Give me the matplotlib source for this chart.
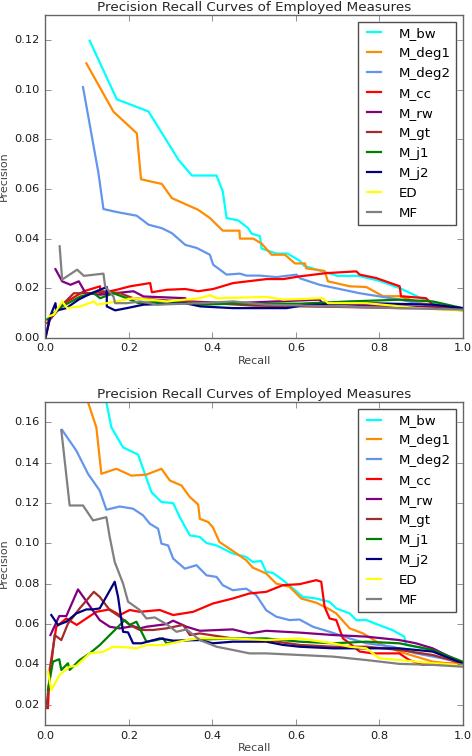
import matplotlib
matplotlib.use("Agg")
import matplotlib.pyplot as plt

plt.style.use("classic")

names = ["M_bw", "M_deg1", "M_deg2", "M_cc", "M_rw", "M_gt", "M_j1", "M_j2", "ED", "MF"]
colors = ["cyan", "darkorange", "cornflowerblue", "red", "purple", "brown",
          "green", "navy", "yellow", "gray"]

# top panel: (recall, precision)
top_bw_r = [0.106, 0.171, 0.247, 0.319, 0.351, 0.41, 0.425, 0.434, 0.462, 0.486, 0.494, 0.514, 0.518,
            0.553, 0.58, 0.61, 0.62, 0.66, 0.70, 0.75, 0.80, 0.85, 0.90, 0.95, 1.0]
top_bw_p = [0.1197, 0.0961, 0.0912, 0.0717, 0.0654, 0.0654, 0.059, 0.0483, 0.0473, 0.0442, 0.042, 0.041, 0.036,
            0.034, 0.034, 0.031, 0.029, 0.027, 0.025, 0.025, 0.023, 0.020, 0.016, 0.013, 0.011]
top_deg1_r = [0.098, 0.163, 0.219, 0.229, 0.279, 0.303, 0.366, 0.394, 0.425, 0.465, 0.466, 0.498, 0.518,
              0.542, 0.574, 0.598, 0.622, 0.625, 0.669, 0.677, 0.729, 0.769, 0.809, 0.849, 0.9, 1.0]
top_deg1_p = [0.1106, 0.0911, 0.0824, 0.0639, 0.062, 0.0563, 0.0516, 0.0483, 0.0432, 0.0432, 0.040, 0.040, 0.038,
              0.0335, 0.0335, 0.030, 0.030, 0.028, 0.027, 0.0228, 0.0208, 0.0205, 0.0168, 0.0168, 0.014, 0.011]
top_deg2_r = [0.09, 0.127, 0.139, 0.171, 0.219, 0.247, 0.279, 0.303, 0.335, 0.363, 0.394, 0.402, 0.434,
              0.466, 0.482, 0.514, 0.553, 0.602, 0.61, 0.657, 0.753, 0.85, 0.92, 1.0]
top_deg2_p = [0.101, 0.0664, 0.0519, 0.0507, 0.0492, 0.0456, 0.0442, 0.0422, 0.0375, 0.0362, 0.0335, 0.0295, 0.0255,
              0.0259, 0.0251, 0.0251, 0.0245, 0.0255, 0.024, 0.0214, 0.018, 0.0154, 0.013, 0.011]
top_cc_r = [0.0, 0.012, 0.052, 0.092, 0.131, 0.131, 0.171, 0.203, 0.251, 0.255, 0.291, 0.335, 0.366, 0.402,
            0.45, 0.53, 0.57, 0.61, 0.673, 0.745, 0.753, 0.793, 0.849, 0.852, 0.912, 0.928, 1.0]
top_cc_p = [0.0, 0.0087, 0.0147, 0.0188, 0.0208, 0.018, 0.0194, 0.0208, 0.0221, 0.0184, 0.0194, 0.0197, 0.0188,
            0.0197, 0.0221, 0.0237, 0.0237, 0.0248, 0.0261, 0.0268, 0.0255, 0.0241, 0.0208, 0.0168, 0.016, 0.0134, 0.0114]
top_rw_r = [0.024, 0.04, 0.06, 0.08, 0.096, 0.131, 0.211, 0.235, 0.335, 0.339, 0.45, 0.657, 0.665, 0.8, 1.0]
top_rw_p = [0.0277, 0.0228, 0.0214, 0.0228, 0.0181, 0.0174, 0.0188, 0.0167, 0.016, 0.0147, 0.014, 0.0154, 0.0138,
            0.013, 0.012]
top_gt_r = [0.004, 0.044, 0.068, 0.108, 0.139, 0.179, 0.21, 0.3, 0.5, 0.7, 0.85, 1.0]
top_gt_p = [0.006, 0.014, 0.018, 0.018, 0.0188, 0.018, 0.016, 0.015, 0.013, 0.0125, 0.012, 0.012]
top_j1_r = [0.004, 0.04, 0.084, 0.116, 0.131, 0.163, 0.195, 0.223, 0.291, 0.371, 0.45, 0.61, 0.729, 0.849, 0.928, 1.0]
top_j1_p = [0.0074, 0.0127, 0.0167, 0.018, 0.016, 0.018, 0.016, 0.014, 0.0147, 0.0134, 0.0138, 0.0138, 0.0147,
            0.0154, 0.0147, 0.012]
top_j2_r = [0.0, 0.012, 0.024, 0.026, 0.05, 0.08, 0.11, 0.147, 0.147, 0.167, 0.195, 0.235, 0.335, 0.371, 0.45,
            0.578, 0.62, 0.77, 0.93, 1.0]
top_j2_p = [0.0, 0.009, 0.014, 0.011, 0.012, 0.0155, 0.018, 0.0205, 0.0127, 0.0111, 0.012, 0.0134, 0.014, 0.0127,
            0.012, 0.012, 0.0132, 0.014, 0.0134, 0.012]
top_ed_r = [0.008, 0.02, 0.04, 0.052, 0.084, 0.116, 0.124, 0.147, 0.211, 0.291, 0.371, 0.394, 0.41, 0.53, 0.57,
            0.665, 0.677, 0.77, 0.85, 0.89, 1.0]
top_ed_p = [0.0087, 0.0094, 0.0147, 0.012, 0.0127, 0.0147, 0.0134, 0.014, 0.016, 0.0147, 0.016, 0.0172, 0.016,
            0.0165, 0.0154, 0.016, 0.014, 0.014, 0.0127, 0.012, 0.011]
top_mf_r = [0.034, 0.04, 0.076, 0.092, 0.139, 0.143, 0.163, 0.167, 0.195, 0.227, 0.267, 0.371, 0.45, 0.53, 0.69,
            0.85, 1.0]
top_mf_p = [0.0369, 0.0235, 0.0275, 0.025, 0.0259, 0.0208, 0.0167, 0.014, 0.014, 0.0147, 0.0134, 0.014, 0.0147,
            0.0134, 0.0127, 0.012, 0.0114]

# bottom panel
bot_bw_r = [0.12, 0.146, 0.158, 0.186, 0.222, 0.254, 0.278, 0.306, 0.322, 0.346, 0.37, 0.386, 0.41, 0.449, 0.481,
            0.497, 0.517, 0.529, 0.545, 0.569, 0.593, 0.617, 0.649, 0.681, 0.697, 0.729, 0.745, 0.769, 0.8,
            0.832, 0.86, 0.864, 0.928, 1.0]
bot_bw_p = [0.19, 0.17, 0.1575, 0.1476, 0.144, 0.1254, 0.1205, 0.12, 0.113, 0.104, 0.1032, 0.1002, 0.099, 0.095,
            0.0933, 0.0908, 0.0913, 0.0859, 0.0854, 0.0818, 0.0777, 0.0735, 0.0727, 0.071, 0.0678, 0.0653, 0.062,
            0.062, 0.0595, 0.057, 0.0538, 0.0497, 0.0472, 0.0406]
bot_deg1_r = [0.09, 0.102, 0.122, 0.134, 0.17, 0.206, 0.242, 0.278, 0.298, 0.326, 0.346, 0.366, 0.37, 0.39, 0.401,
              0.417, 0.449, 0.481, 0.497, 0.529, 0.553, 0.585, 0.613, 0.649, 0.677, 0.697, 0.729, 0.761, 0.8,
              0.848, 0.928, 1.0]
bot_deg1_p = [0.19, 0.17, 0.1575, 0.1345, 0.137, 0.1336, 0.1341, 0.137, 0.1312, 0.1287, 0.123, 0.1193, 0.1122,
              0.1106, 0.1081, 0.1007, 0.0963, 0.0917, 0.088, 0.0851, 0.0801, 0.0785, 0.0727, 0.0706, 0.0678,
              0.0653, 0.0579, 0.0554, 0.0505, 0.0464, 0.0414, 0.0398]
bot_deg2_r = [0.04, 0.074, 0.102, 0.13, 0.146, 0.178, 0.21, 0.234, 0.25, 0.27, 0.278, 0.294, 0.306, 0.334, 0.362,
              0.386, 0.41, 0.425, 0.449, 0.481, 0.505, 0.529, 0.553, 0.585, 0.609, 0.641, 0.681, 0.729, 0.769,
              0.832, 0.888, 0.952, 1.0]
bot_deg2_p = [0.1562, 0.146, 0.1345, 0.1262, 0.1167, 0.1183, 0.1172, 0.1139, 0.1098, 0.1073, 0.0999, 0.099,
              0.0925, 0.0875, 0.0892, 0.0842, 0.0834, 0.0793, 0.0768, 0.0776, 0.0744, 0.0669, 0.0637, 0.062,
              0.0623, 0.0587, 0.0562, 0.0529, 0.0505, 0.0488, 0.0455, 0.043, 0.0406]
bot_cc_r = [0.006, 0.01, 0.026, 0.05, 0.075, 0.098, 0.122, 0.154, 0.178, 0.202, 0.226, 0.274, 0.306, 0.354, 0.401,
            0.449, 0.489, 0.529, 0.569, 0.609, 0.649, 0.661, 0.669, 0.681, 0.697, 0.713, 0.729, 0.753, 0.785,
            0.848, 0.872, 0.904, 1.0]
bot_cc_p = [0.0184, 0.0373, 0.0587, 0.0628, 0.0596, 0.0628, 0.0661, 0.0673, 0.0645, 0.067, 0.0661, 0.067, 0.0645,
            0.0661, 0.0702, 0.0727, 0.0752, 0.076, 0.0793, 0.0798, 0.0818, 0.081, 0.0686, 0.0628, 0.062, 0.0529,
            0.0505, 0.0464, 0.0455, 0.0455, 0.0422, 0.0398, 0.0406]
bot_rw_r = [0.012, 0.033, 0.05, 0.078, 0.102, 0.13, 0.154, 0.178, 0.21, 0.226, 0.242, 0.29, 0.306, 0.338, 0.37,
            0.449, 0.489, 0.529, 0.609, 0.689, 0.769, 0.848, 0.888, 0.928, 1.0]
bot_rw_p = [0.0546, 0.064, 0.064, 0.0772, 0.0702, 0.062, 0.0587, 0.0579, 0.059, 0.0579, 0.0587, 0.06, 0.0617,
            0.0587, 0.0567, 0.0574, 0.0554, 0.0567, 0.0558, 0.0546, 0.0538, 0.0521, 0.0505, 0.048, 0.0406]
bot_gt_r = [0.002, 0.022, 0.038, 0.054, 0.082, 0.116, 0.13, 0.154, 0.178, 0.202, 0.226, 0.258, 0.29, 0.33, 0.346,
            0.37, 0.449, 0.529, 0.609, 0.689, 0.769, 0.848, 0.928, 1.0]
bot_gt_p = [0.0184, 0.0546, 0.0521, 0.0603, 0.0678, 0.076, 0.0735, 0.067, 0.0637, 0.0596, 0.0571, 0.0571, 0.0579,
            0.0596, 0.0546, 0.0554, 0.0529, 0.0521, 0.0497, 0.0488, 0.0488, 0.0472, 0.0447, 0.0406]
bot_j1_r = [0.006, 0.018, 0.033, 0.038, 0.054, 0.058, 0.082, 0.106, 0.13, 0.162, 0.19, 0.202, 0.218, 0.242, 0.266,
            0.282, 0.29, 0.338, 0.449, 0.529, 0.609, 0.689, 0.769, 0.848, 0.928, 1.0]
bot_j1_p = [0.0274, 0.0414, 0.0426, 0.0373, 0.0406, 0.0373, 0.0422, 0.0455, 0.0496, 0.0562, 0.062, 0.0596, 0.0612,
            0.0513, 0.0521, 0.053, 0.0505, 0.0521, 0.0529, 0.0529, 0.0513, 0.0505, 0.0513, 0.0505, 0.0472, 0.0414]
bot_j2_r = [0.014, 0.03, 0.05, 0.074, 0.098, 0.114, 0.13, 0.166, 0.174, 0.186, 0.198, 0.21, 0.23, 0.274, 0.306,
            0.37, 0.401, 0.449, 0.529, 0.569, 0.609, 0.689, 0.769, 0.848, 0.928, 1.0]
bot_j2_p = [0.0645, 0.0596, 0.0612, 0.0653, 0.0673, 0.0673, 0.0678, 0.081, 0.0735, 0.0562, 0.0559, 0.0505, 0.0505,
            0.0529, 0.0518, 0.0521, 0.0505, 0.0513, 0.0513, 0.0497, 0.0488, 0.048, 0.048, 0.048, 0.0464, 0.0406]
bot_ed_r = [0.006, 0.014, 0.034, 0.058, 0.074, 0.106, 0.138, 0.162, 0.194, 0.218, 0.242, 0.282, 0.338, 0.37, 0.449,
            0.529, 0.609, 0.689, 0.729, 0.769, 0.8, 0.848, 0.928, 1.0]
bot_ed_p = [0.0365, 0.0274, 0.0348, 0.0389, 0.0393, 0.0455, 0.0463, 0.0488, 0.0485, 0.048, 0.0496, 0.0496, 0.0521,
            0.053, 0.0529, 0.0521, 0.0529, 0.0505, 0.0488, 0.048, 0.0431, 0.0422, 0.0406, 0.0398]
bot_mf_r = [0.038, 0.058, 0.09, 0.114, 0.146, 0.154, 0.166, 0.186, 0.198, 0.226, 0.242, 0.262, 0.29, 0.314, 0.338,
            0.37, 0.41, 0.449, 0.489, 0.529, 0.609, 0.689, 0.769, 0.848, 0.928, 1.0]
bot_mf_p = [0.1562, 0.1188, 0.1188, 0.1114, 0.113, 0.1032, 0.0908, 0.0801, 0.0711, 0.067, 0.0628, 0.0633, 0.06,
            0.0562, 0.0574, 0.0521, 0.0488, 0.0472, 0.0455, 0.0455, 0.0447, 0.0439, 0.0422, 0.0403, 0.0398, 0.0389]

top_curves = [(top_bw_r, top_bw_p), (top_deg1_r, top_deg1_p), (top_deg2_r, top_deg2_p), (top_cc_r, top_cc_p),
              (top_rw_r, top_rw_p), (top_gt_r, top_gt_p), (top_j1_r, top_j1_p), (top_j2_r, top_j2_p),
              (top_ed_r, top_ed_p), (top_mf_r, top_mf_p)]
bot_curves = [(bot_bw_r, bot_bw_p), (bot_deg1_r, bot_deg1_p), (bot_deg2_r, bot_deg2_p), (bot_cc_r, bot_cc_p),
              (bot_rw_r, bot_rw_p), (bot_gt_r, bot_gt_p), (bot_j1_r, bot_j1_p), (bot_j2_r, bot_j2_p),
              (bot_ed_r, bot_ed_p), (bot_mf_r, bot_mf_p)]


def draw_panel(ax, curves, ylim, yticks):
    for (r, p), name, c in zip(curves, names, colors):
        ax.plot(r, p, color=c, lw=1.6, label=name)
    ax.set_xlim(0, 1)
    ax.set_ylim(*ylim)
    ax.set_yticks(yticks)
    ax.set_xticks([0.0, 0.2, 0.4, 0.6, 0.8, 1.0])
    ax.set_xlabel("Recall", fontsize=8, labelpad=2, color="0.25")
    ax.set_ylabel("Precision", fontsize=8, labelpad=4, color="0.25")
    ax.set_title("Precision Recall Curves of Employed Measures", fontsize=9.7, pad=3, color="0.15")
    ax.tick_params(labelsize=8.2, colors="0.4", labelcolor="0.1")
    for s in ax.spines.values():
        s.set_color("0.4")
    leg = ax.legend(loc="upper right", fontsize=9.6, handlelength=1.65, handletextpad=1.0,
                    borderaxespad=0.5, labelspacing=0.52)
    leg.get_frame().set_edgecolor("0.3")


fig = plt.figure(figsize=(4.72, 7.56), dpi=100, facecolor="white")
ax1 = fig.add_axes([0.0963, 0.553, 0.884, 0.427])
ax2 = fig.add_axes([0.0963, 0.041, 0.884, 0.427])
draw_panel(ax1, top_curves, (0, 0.13), [0.0, 0.02, 0.04, 0.06, 0.08, 0.10, 0.12])
draw_panel(ax2, bot_curves, (0.01, 0.17), [0.02, 0.04, 0.06, 0.08, 0.10, 0.12, 0.14, 0.16])
fig.savefig("out.png", dpi=100, facecolor="white")
